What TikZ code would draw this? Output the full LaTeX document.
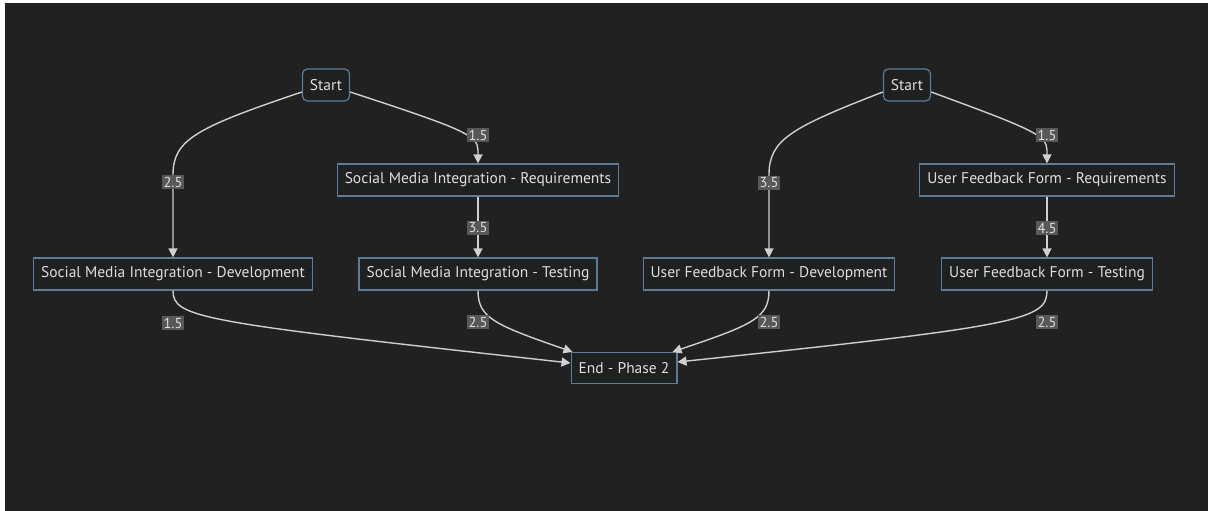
\documentclass[tikz,border=0pt]{standalone}
\usepackage{fontspec}
\setmainfont{PT Sans}
\usepackage{tikz}
\usetikzlibrary{arrows.meta}
\definecolor{bgdark}{HTML}{212121}
\definecolor{nodefill}{HTML}{1F2020}
\definecolor{nodeedge}{HTML}{5D7C99}
\definecolor{textlight}{HTML}{DEDEDE}
\definecolor{edgegray}{HTML}{D0D0D0}
\definecolor{labelgray}{HTML}{585858}

\begin{document}
\begin{tikzpicture}[x=1pt,y=-1pt, font=\fontsize{15.5}{18}\selectfont,
  box/.style={draw=nodeedge, line width=1.2pt, fill=nodefill, text=textlight,
    inner xsep=7.5pt, inner ysep=0pt, minimum height=32pt},
  startbox/.style={box, rounded corners=5pt},
  edge/.style={draw=edgegray, line width=1.4pt, -{Triangle[length=9pt,width=9pt]}},
  elabel/.style={fill=labelgray, text=textlight, inner sep=2pt, font=\fontsize{14.5}{16}\selectfont}]
% background
\fill[white] (0,0) rectangle (1208,511);
\fill[bgdark] (5,3) rectangle (1208,511);
\useasboundingbox (0,0) rectangle (1208,511);

% social media branch
\node[startbox] (s1) at (326,85) {Start};
\node[box] (req1) at (478,180) {Social Media Integration - Requirements};
\node[box] (dev1) at (173,274) {Social Media Integration - Development};
\node[box] (test1) at (478,274) {Social Media Integration - Testing};

% user feedback branch
\node[startbox] (s2) at (907,85) {Start};
\node[box] (req2) at (1047,180) {User Feedback Form - Requirements};
\node[box] (dev2) at (769,274) {User Feedback Form - Development};
\node[box] (test2) at (1047,274) {User Feedback Form - Testing};

\node[box, minimum height=31pt] (end) at (624,368) {End - Phase 2};

% edges
\draw[edge] ([yshift=-7pt]s1.west) .. controls (195,128) and (173,140) .. (173,175) -- (dev1.north);
\draw[edge] ([yshift=-7pt]s1.east) .. controls (460,128) and (478,135) .. (478,150) -- (req1.north);
\draw[edge] (req1.south) -- (test1.north);
\draw[edge] ([yshift=-7pt]s2.west) .. controls (790,128) and (769,140) .. (769,175) -- (dev2.north);
\draw[edge] ([yshift=-7pt]s2.east) .. controls (1029,128) and (1047,135) .. (1047,150) -- (req2.north);
\draw[edge] (req2.south) -- (test2.north);

\draw[edge] (dev1.south) .. controls (173,318) and (200,322) .. ([yshift=5pt]end.west);
\draw[edge] (test1.south) .. controls (478,318) and (495,325) .. ([xshift=2pt]end.north west);
\draw[edge] (dev2.south) .. controls (769,318) and (752,325) .. ([xshift=-5pt]end.north east);
\draw[edge] (test2.south) .. controls (1047,320) and (1020,326) .. ([yshift=6pt]end.east);

% edge labels
\foreach \n/\x/\y/\lab in {1/173/182/2.5, 2/478/135/1.5, 3/478/228/3.5, 4/769/183/3.5,
  5/1047/135/1.5, 6/1047/228/4.5, 7/173/323/1.5, 8/478/322/2.5, 9/769/322/2.5, 10/1047/322/2.5} {
  \node[elabel] (l\n) at (\x,\y) {\lab};
}
\end{tikzpicture}
\end{document}
